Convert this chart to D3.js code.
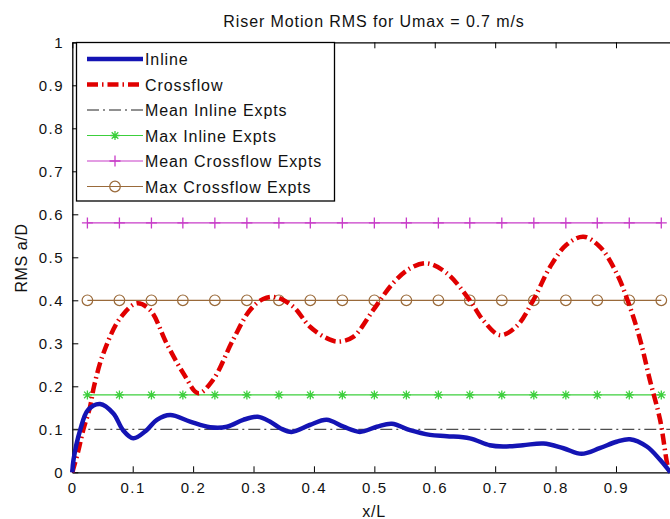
<!DOCTYPE html>
<html>
<head>
<meta charset="utf-8">
<script src="https://cdn.jsdelivr.net/npm/d3@7"></script>
<style>
  body { margin: 0; background: #fff; }
  svg { display: block; font-family: "Liberation Sans", Arial, sans-serif; }
</style>
</head>
<body>
<div id="graphContainer"></div>
<script>
// values
var xTicks = [0, 0.1, 0.2, 0.3, 0.4, 0.5, 0.6, 0.7, 0.8, 0.9, 1];
var xTickLabels = ["0", "0.1", "0.2", "0.3", "0.4", "0.5", "0.6", "0.7", "0.8", "0.9", ""]; // 1 falls off the cropped edge
var yTicks = [0, 0.1, 0.2, 0.3, 0.4, 0.5, 0.6, 0.7, 0.8, 0.9, 1];

var inlineX = [0, 0.002, 0.013, 0.026, 0.046, 0.068, 0.084, 0.101, 0.123, 0.140, 0.162, 0.195, 0.228, 0.256, 0.283, 0.307, 0.327, 0.345, 0.363, 0.393, 0.421, 0.449, 0.476, 0.504, 0.529, 0.559, 0.592, 0.620, 0.658, 0.691, 0.713, 0.746, 0.780, 0.813, 0.843, 0.873, 0.901, 0.923, 0.951, 0.973, 0.99];
var inlineY = [0, 0.029, 0.098, 0.145, 0.159, 0.137, 0.098, 0.079, 0.098, 0.122, 0.133, 0.118, 0.105, 0.106, 0.122, 0.129, 0.118, 0.102, 0.094, 0.110, 0.122, 0.106, 0.094, 0.106, 0.113, 0.098, 0.087, 0.084, 0.079, 0.063, 0.060, 0.063, 0.067, 0.056, 0.043, 0.056, 0.071, 0.077, 0.060, 0.029, 0];

var crossX = [0, 0.01, 0.018, 0.029, 0.036, 0.051, 0.079, 0.107, 0.129, 0.156, 0.184, 0.2085, 0.233, 0.266, 0.294, 0.316, 0.338, 0.366, 0.393, 0.421, 0.44, 0.465, 0.498, 0.531, 0.559, 0.587, 0.62, 0.658, 0.68, 0.708, 0.735, 0.763, 0.791, 0.818, 0.846, 0.873, 0.901, 0.923, 0.94, 0.956, 0.973, 0.986, 0.99];
var crossY = [0, 0.05, 0.098, 0.15, 0.2, 0.275, 0.358, 0.393, 0.377, 0.30, 0.23, 0.184, 0.215, 0.308, 0.377, 0.403, 0.407, 0.385, 0.339, 0.312, 0.304, 0.315, 0.377, 0.44, 0.474, 0.486, 0.463, 0.40, 0.354, 0.319, 0.339, 0.40, 0.478, 0.529, 0.548, 0.525, 0.463, 0.385, 0.308, 0.215, 0.122, 0.013, 0];

// experiment stations (marker positions) and levels
var exptX = [0.025, 0.078, 0.131, 0.183, 0.236, 0.289, 0.342, 0.394, 0.447, 0.5, 0.553, 0.606, 0.658, 0.711, 0.764, 0.817, 0.869, 0.922, 0.975];
var meanInlineX = [0, 1];
var meanInline = 0.1;
var maxInline = 0.18;
var meanCross = 0.58;
var maxCross = 0.40;

var seriesNames = ["Inline", "Crossflow", "Mean Inline Expts", "Max Inline Expts", "Mean Crossflow Expts", "Max Crossflow Expts"];

var W = 670, H = 519;
var svg = d3.select("#graphContainer").append("svg")
    .attr("width", W).attr("height", H);

var xScale = d3.scaleLinear().domain([0, 1]).range([72.3, 676.4]);
var yScale = d3.scaleLinear().domain([0, 1]).range([472.3, 42.3]);

var col = {
  inline: "#1414b4",
  cross: "#e00000",
  meanIn: "#222222",
  maxIn: "#3ccf3c",
  meanCr: "#c83cc8",
  maxCr: "#9a6a3a"
};

// axes box with inward ticks
var tl = 6;
var axL = d3.axisLeft(yScale).tickValues(yTicks).tickSizeInner(-tl).tickSizeOuter(0).tickPadding(8).tickFormat(d3.format("~g"));
var axB = d3.axisBottom(xScale).tickValues(xTicks).tickSizeInner(-tl).tickSizeOuter(0).tickPadding(10)
    .tickFormat(function(d, i) { return xTickLabels[i]; });
var axT = d3.axisTop(xScale).tickValues(xTicks).tickSizeInner(-tl).tickSizeOuter(0).tickFormat("");
var axR = d3.axisRight(yScale).tickValues(yTicks).tickSizeInner(-tl).tickSizeOuter(0).tickFormat("");

function styleAxis(g) {
  g.select(".domain").attr("stroke", "#000").attr("stroke-width", 1.3);
  g.selectAll(".tick line").attr("stroke", "#000");
  g.selectAll(".tick text").attr("font-size", 15).attr("fill", "#111")
    .attr("font-family", "Liberation Sans, Arial, sans-serif")
    .attr("letter-spacing", 1.6);
}

svg.append("g").attr("transform", "translate(" + xScale(0) + ",0)").call(axL).call(styleAxis);
svg.append("g").attr("transform", "translate(0," + yScale(0) + ")").call(axB).call(styleAxis);
svg.append("g").attr("transform", "translate(0," + yScale(1) + ")").call(axT).call(styleAxis);
svg.append("g").attr("transform", "translate(" + xScale(1) + ",0)").call(axR).call(styleAxis);

// lines
var line = d3.line()
    .x(function(d) { return xScale(d[0]); })
    .y(function(d) { return yScale(d[1]); });
var smooth = d3.line()
    .x(function(d) { return xScale(d[0]); })
    .y(function(d) { return yScale(d[1]); })
    .curve(d3.curveCatmullRom.alpha(0.5));

function flat(xs, v) { return [[xs[0], v], [xs[xs.length - 1], v]]; }

svg.append("path").attr("d", line(flat(meanInlineX, meanInline)))
  .attr("fill", "none").attr("stroke", col.meanIn).attr("stroke-width", 1)
  .attr("stroke-dasharray", "12,4,2,4");

svg.append("path").attr("d", line(flat(exptX, maxInline)))
  .attr("fill", "none").attr("stroke", col.maxIn).attr("stroke-width", 1.2);
svg.append("path").attr("d", line(flat(exptX, meanCross)))
  .attr("fill", "none").attr("stroke", col.meanCr).attr("stroke-width", 1.2);
svg.append("path").attr("d", line(flat(exptX, maxCross)))
  .attr("fill", "none").attr("stroke", col.maxCr).attr("stroke-width", 1.2);

function starMarker(g, x, y, c) {
  var s = 4.5, d = 3.3;
  g.append("path")
    .attr("d", "M" + (x - s) + "," + y + "H" + (x + s) + "M" + x + "," + (y - s) + "V" + (y + s) +
      "M" + (x - d) + "," + (y - d) + "L" + (x + d) + "," + (y + d) + "M" + (x - d) + "," + (y + d) + "L" + (x + d) + "," + (y - d))
    .attr("stroke", c).attr("stroke-width", 1.3).attr("fill", "none");
}
function plusMarker(g, x, y, c) {
  var s = 5.5;
  g.append("path")
    .attr("d", "M" + (x - s) + "," + y + "H" + (x + s) + "M" + x + "," + (y - s) + "V" + (y + s))
    .attr("stroke", c).attr("stroke-width", 1.3).attr("fill", "none");
}
function circleMarker(g, x, y, c) {
  g.append("circle").attr("cx", x).attr("cy", y).attr("r", 5.3)
    .attr("stroke", c).attr("stroke-width", 1.2).attr("fill", "none");
}

var mk = svg.append("g");
exptX.forEach(function(x) {
  starMarker(mk, xScale(x), yScale(maxInline), col.maxIn);
  plusMarker(mk, xScale(x), yScale(meanCross), col.meanCr);
  circleMarker(mk, xScale(x), yScale(maxCross), col.maxCr);
});

var crossPts = crossX.map(function(x, i) { return [x, crossY[i]]; });
var inlinePts = inlineX.map(function(x, i) { return [x, inlineY[i]]; });

svg.append("path").attr("d", smooth(crossPts))
  .attr("fill", "none").attr("stroke", col.cross).attr("stroke-width", 4.5)
  .attr("stroke-dasharray", "11,4,1.5,4");
svg.append("path").attr("d", smooth(inlinePts))
  .attr("fill", "none").attr("stroke", col.inline).attr("stroke-width", 4.5)
  .attr("stroke-linejoin", "round");

// title and axis labels
svg.append("text").attr("x", 374).attr("y", 27).attr("text-anchor", "middle")
  .attr("font-size", 16).attr("fill", "#111").attr("letter-spacing", 0.9)
  .text("Riser Motion RMS for Umax = 0.7 m/s");
svg.append("text").attr("x", 374).attr("y", 517).attr("text-anchor", "middle")
  .attr("font-size", 16).attr("fill", "#111").attr("letter-spacing", 0.8).text("x/L");
svg.append("text").attr("transform", "translate(27,258) rotate(-90)").attr("text-anchor", "middle")
  .attr("font-size", 16).attr("fill", "#111").attr("letter-spacing", 0.6).text("RMS a/D");

// legend
var lg = svg.append("g");
lg.append("rect").attr("x", 76.5).attr("y", 42.5).attr("width", 258).attr("height", 158.5)
  .attr("fill", "#fff").attr("stroke", "#000").attr("stroke-width", 1.3);

var legY = [59, 84.5, 110, 135.5, 161, 186.5];
var lx0 = 87, lx1 = 143, lxm = 115;
seriesNames.forEach(function(name, i) {
  var y = legY[i];
  var p = lg.append("path").attr("d", "M" + lx0 + "," + y + "H" + lx1).attr("fill", "none");
  if (i === 0) p.attr("stroke", col.inline).attr("stroke-width", 4.5);
  if (i === 1) p.attr("stroke", col.cross).attr("stroke-width", 4.5).attr("stroke-dasharray", "11,4,1.5,4");
  if (i === 2) p.attr("stroke", col.meanIn).attr("stroke-width", 1).attr("stroke-dasharray", "12,4,2,4");
  if (i === 3) { p.attr("stroke", col.maxIn).attr("stroke-width", 1.2); starMarker(lg, lxm, y, col.maxIn); }
  if (i === 4) { p.attr("stroke", col.meanCr).attr("stroke-width", 1.2); plusMarker(lg, lxm, y, col.meanCr); }
  if (i === 5) { p.attr("stroke", col.maxCr).attr("stroke-width", 1.2); circleMarker(lg, lxm, y, col.maxCr); }
  lg.append("text").attr("x", 145).attr("y", y + 6).attr("font-size", 16)
    .attr("fill", "#111").attr("letter-spacing", 0.9).text(name);
});
</script>
</body>
</html>
